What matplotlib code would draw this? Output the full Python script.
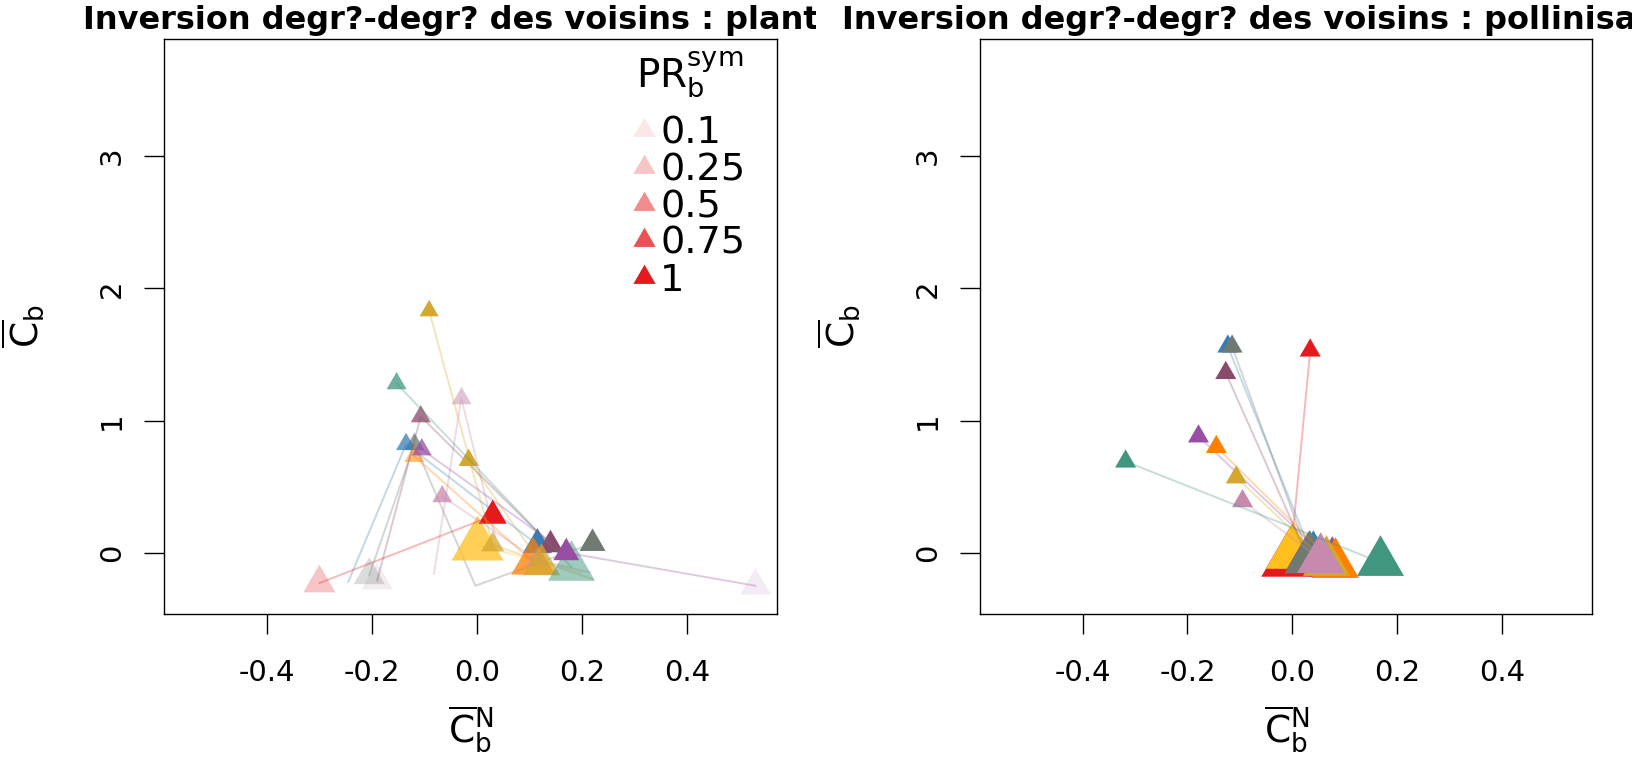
import matplotlib
matplotlib.use("Agg")
import matplotlib.pyplot as plt
from matplotlib.lines import Line2D
from matplotlib.transforms import Bbox, TransformedBbox
from matplotlib.colors import to_rgba

plt.rcParams.update(
    {
        "font.family": "DejaVu Sans",
        "mathtext.fontset": "dejavusans",
    }
)

COLORS = {
    "red": "#E41A1C",
    "blue": "#377EB8",
    "teal": "#41967F",
    "purple": "#984EA3",
    "orange": "#FF7F00",
    "yellow": "#FFBF1F",
    "gold": "#D4A82C",
    "pink": "#C68AAE",
    "grey": "#6F7B72",
    "mauve": "#8A4A6C",
}

TITLES = [
    "Inversion degr?-degr? des voisins : plantes",
    "Inversion degr?-degr? des voisins : pollinisateurs",
]
XTICKS = [-0.4, -0.2, 0.0, 0.2, 0.4]
XTICK_LABELS = ["-0.4", "-0.2", "0.0", "0.2", "0.4"]
YTICKS = [0, 1, 2, 3]
PR_LEVELS = [0.1, 0.25, 0.5, 0.75, 1]

# one path per entry; PR = 0 marks a vertex drawn without a triangle
LEFT_GROUP = ["pink", "grey", "blue", "mauve", "yellow", "red", "gold",
              "orange", "pink", "gold", "teal", "purple"]
LEFT_X = [
    [-0.082, -0.03, 0.035],
    [-0.205, -0.119, -0.003, 0.22],
    [-0.245, -0.135, 0.115],
    [-0.19, -0.107, 0.14],
    [0.0, 0.2],
    [-0.30, 0.03],
    [-0.091, 0.03, 0.22],
    [-0.119, 0.107],
    [-0.066, 0.115, 0.216],
    [-0.016, 0.123],
    [-0.153, 0.18],
    [-0.105, 0.17, 0.53],
]
LEFT_Y = [
    [-0.16, 1.17, 0.12],
    [-0.17, 0.82, -0.25, 0.07],
    [-0.22, 0.82, 0.06],
    [-0.21, 1.03, 0.06],
    [0.06, -0.15],
    [-0.23, 0.28],
    [1.83, 0.06, -0.20],
    [0.73, -0.07],
    [0.425, -0.055, -0.15],
    [0.70, -0.09],
    [1.28, -0.11],
    [0.78, 0.0, -0.25],
]
LEFT_PR = [
    [0, 0.5, 0],
    [0.25, 0.75, 0, 1],
    [0, 0.75, 1],
    [0.1, 0.75, 1],
    [0.75, 0],
    [0.25, 1],
    [1, 0.75, 0],
    [0.5, 0.75],
    [0.75, 0.5, 0],
    [1, 0.75],
    [0.75, 0.5],
    [0.75, 1, 0.1],
]
LEFT_SIZE = [
    [0, 20, 0],
    [31, 20, 0, 26],
    [0, 20, 29],
    [31, 20, 26],
    [52, 0],
    [32, 28],
    [19, 23, 0],
    [20, 44],
    [20, 24, 0],
    [20, 37],
    [20, 47],
    [20, 26, 31],
]

RIGHT_GROUP = ["red", "yellow", "mauve", "blue", "grey", "purple", "orange",
               "gold", "pink", "teal"]
RIGHT_X = [
    [0.034, -0.004],
    [0.0],
    [-0.127, 0.03],
    [-0.123, 0.04],
    [-0.115, 0.033],
    [-0.179, 0.076],
    [-0.145, 0.082],
    [-0.107, 0.065],
    [-0.095, 0.054],
    [-0.318, 0.168],
]
RIGHT_Y = [
    [1.53, -0.055],
    [0.0],
    [1.36, -0.04],
    [1.56, -0.04],
    [1.56, -0.047],
    [0.88, -0.08],
    [0.80, -0.088],
    [0.57, -0.073],
    [0.39, -0.05],
    [0.69, -0.073],
]
RIGHT_PR = [[1, 1], [1], [1, 1], [1, 1], [1, 1], [1, 1], [1, 1], [1, 1],
            [1, 1], [1, 1]]
RIGHT_SIZE = [
    [21, 58],
    [53],
    [21, 45],
    [21, 48],
    [21, 50],
    [21, 47],
    [21, 47],
    [21, 47],
    [21, 47],
    [21, 47],
]

# triangle centred on its centroid, like R's pch 17
TRI = [(0, 1), (-0.866, -0.5), (0.866, -0.5)]
PX_TO_MS = 0.866 * 100 / 72


def draw_panel(ax, groups, xs, ys, prs, sizes):
    for g, x, y, pr, w in zip(groups, xs, ys, prs, sizes):
        col = COLORS[g]
        if len(x) > 1:
            ax.plot(x, y, color=col, alpha=0.3, lw=1.4, zorder=2)
        keep = [i for i in range(len(x)) if pr[i] > 0]
        ax.scatter(
            [x[i] for i in keep],
            [y[i] for i in keep],
            s=[(w[i] / PX_TO_MS) ** 2 for i in keep],
            c=[to_rgba(col, pr[i]) for i in keep],
            marker=TRI,
            linewidths=0,
            zorder=2,
        )


fig = plt.figure(figsize=(16.32, 7.68), dpi=100)
ax_l = fig.add_axes([0.1007, 0.2005, 0.3757, 0.7493])
ax_r = fig.add_axes([0.6007, 0.2005, 0.3750, 0.7493])

draw_panel(ax_l, LEFT_GROUP, LEFT_X, LEFT_Y, LEFT_PR, LEFT_SIZE)
draw_panel(ax_r, RIGHT_GROUP, RIGHT_X, RIGHT_Y, RIGHT_PR, RIGHT_SIZE)

for ax in (ax_l, ax_r):
    ax.set_xlim(-0.595, 0.572)
    ax.set_ylim(-0.464, 3.89)
    ax.set_xticks(XTICKS)
    ax.set_xticklabels(XTICK_LABELS)
    ax.set_yticks(YTICKS)
    ax.tick_params(axis="both", length=14.5, width=1.0, labelsize=21, color="black")
    ax.tick_params(axis="x", pad=18)
    ax.tick_params(axis="y", pad=13, labelrotation=90)
    for lab in ax.get_yticklabels():
        lab.set_va("center")
    for sp in ax.spines.values():
        sp.set_linewidth(1.0)
    ax.set_xlabel(r"$\overline{\mathrm{C}}_\mathrm{b}^\mathrm{N}$", fontsize=27, va="center")
    ax.xaxis.set_label_coords(0.5, -0.2)
    ax.set_ylabel(r"$\overline{\mathrm{C}}_\mathrm{b}$", fontsize=27, va="center")
    ax.yaxis.set_label_coords(-0.232, 0.5)

# titles are clipped to their half of the figure, as in R's mfrow layout
for i, (title, cx) in enumerate(zip(TITLES, [0.2886, 0.7882])):
    t = fig.text(cx, 0.962, title, ha="center", va="baseline",
                 fontsize=23, fontweight="bold")
    t.set_clip_box(TransformedBbox(Bbox([[0.5 * i, 0], [0.5 * i + 0.5, 1]]),
                                   fig.transFigure))
    t.set_clip_on(True)

handles = [
    Line2D([], [], ls="none", marker=TRI, markersize=18.5,
           markerfacecolor=to_rgba(COLORS["red"], p), markeredgewidth=0)
    for p in PR_LEVELS
]
leg = ax_l.legend(
    handles,
    [str(p) for p in PR_LEVELS],
    title=r"$\mathrm{PR}_\mathrm{b}^\mathrm{sym}$",
    loc="upper left",
    bbox_to_anchor=(0.765, 0.98),
    frameon=False,
    fontsize=27.5,
    title_fontsize=28,
    handlelength=0.55,
    handletextpad=0.15,
    labelspacing=0.02,
    borderpad=0.0,
    borderaxespad=0.0,
)
# wider gap between the legend title and the entries
leg._legend_box.sep = 11

fig.savefig("out.png", dpi=100)
